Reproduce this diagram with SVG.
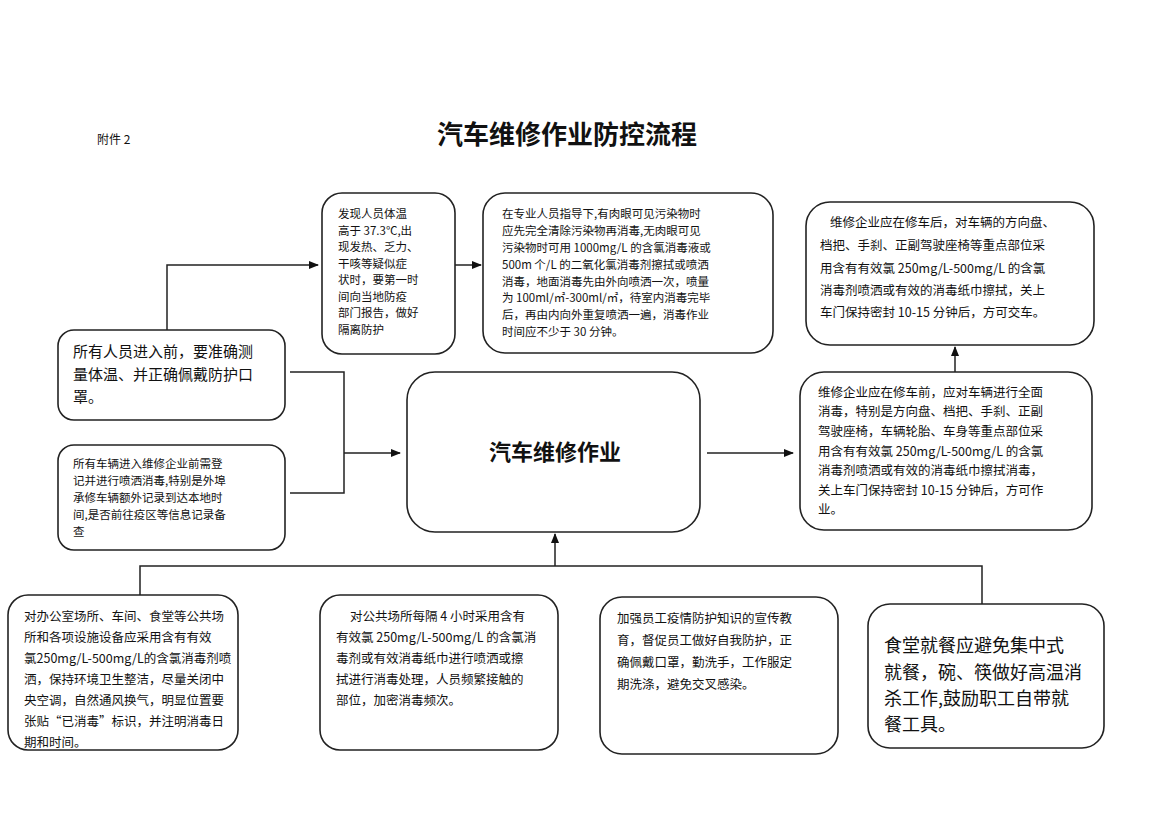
<svg xmlns="http://www.w3.org/2000/svg" width="1169" height="827" viewBox="0 0 1169 827">
<style>
text{font-family:"Noto Sans CJK SC","Liberation Sans",sans-serif;fill:#111}
.b{fill:#fff;stroke:#222;stroke-width:1.6}
.s{font-size:12.5px}
.t{font-size:11.5px}
.c{fill:none;stroke:#222;stroke-width:1.5}
</style>
<defs><marker id="a" markerWidth="10" markerHeight="8" refX="9" refY="4" orient="auto" markerUnits="userSpaceOnUse"><path d="M0,0L10,4L0,8z" fill="#111"/></marker></defs>
<rect width="1169" height="827" fill="#fff"/>
<text x="97" y="144" font-size="12" font-family="Liberation Serif,serif">附件 2</text>
<text x="567" y="144" font-size="26" font-weight="bold" text-anchor="middle">汽车维修作业防控流程</text>
<g id="connectors">
<path class="c" d="M167,330V265H318" marker-end="url(#a)"/>
<path class="c" d="M455,265H481" marker-end="url(#a)"/>
<path class="c" d="M290,372H344V493H290M344,453H400" marker-end="url(#a)"/>
<path class="c" d="M707,453H793" marker-end="url(#a)"/>
<path class="c" d="M955,372V347" marker-end="url(#a)"/>
<path class="c" d="M140,595V566H982V604M555,566V534" marker-end="url(#a)"/>
</g>
<g id="nA"><rect class="b" x="58" y="330" width="227" height="90" rx="16"/>
<text font-size="15"><tspan x="73" y="357">所有人员进入前，要准确测</tspan><tspan x="73" y="380">量体温、并正确佩戴防护口</tspan><tspan x="73" y="402">罩。</tspan></text></g>
<g id="nB"><rect class="b" x="58" y="445" width="227" height="105" rx="16"/>
<text class="t"><tspan x="73" y="468">所有车辆进入维修企业前需登</tspan><tspan x="73" y="485">记并进行喷洒消毒,特别是外埠</tspan><tspan x="73" y="502">承修车辆额外记录到达本地时</tspan><tspan x="73" y="519">间,是否前往疫区等信息记录备</tspan><tspan x="73" y="536">查</tspan></text></g>
<g id="nC"><rect class="b" x="322" y="193" width="133" height="161" rx="20"/>
<text class="t"><tspan x="338" y="218">发现人员体温</tspan><tspan x="338" y="235">高于 37.3℃,出</tspan><tspan x="338" y="251">现发热、乏力、</tspan><tspan x="338" y="268">干咳等疑似症</tspan><tspan x="338" y="284">状时，要第一时</tspan><tspan x="338" y="301">间向当地防疫</tspan><tspan x="338" y="317">部门报告，做好</tspan><tspan x="338" y="334">隔离防护</tspan></text></g>
<g id="nD"><rect class="b" x="483" y="193" width="290" height="160" rx="22"/>
<text class="t"><tspan x="502" y="218">在专业人员指导下,有肉眼可见污染物时</tspan><tspan x="502" y="235">应先完全清除污染物再消毒,无肉眼可见</tspan><tspan x="502" y="252">污染物时可用 1000mg/L 的含氯消毒液或</tspan><tspan x="502" y="269">500m 个/L 的二氧化氯消毒剂擦拭或喷洒</tspan><tspan x="502" y="286">消毒，地面消毒先由外向喷洒一次，喷量</tspan><tspan x="502" y="302">为 100ml/㎡-300ml/㎡，待室内消毒完毕</tspan><tspan x="502" y="319">后，再由内向外重复喷洒一遍，消毒作业</tspan><tspan x="502" y="336">时间应不少于 30 分钟。</tspan></text></g>
<g id="nE"><rect class="b" x="806" y="202" width="288" height="143" rx="24"/>
<text class="s"><tspan x="830" y="227">维修企业应在修车后，对车辆的方向盘、</tspan><tspan x="820" y="250">档把、手刹、正副驾驶座椅等重点部位采</tspan><tspan x="820" y="273">用含有有效氯 250mg/L-500mg/L 的含氯</tspan><tspan x="820" y="295">消毒剂喷洒或有效的消毒纸巾擦拭，关上</tspan><tspan x="820" y="317">车门保持密封 10-15 分钟后，方可交车。</tspan></text></g>
<g id="nF"><rect class="b" x="800" y="372" width="292" height="158" rx="24"/>
<text class="s"><tspan x="818" y="397">维修企业应在修车前，应对车辆进行全面</tspan><tspan x="818" y="416">消毒，特别是方向盘、档把、手刹、正副</tspan><tspan x="818" y="436">驾驶座椅，车辆轮胎、车身等重点部位采</tspan><tspan x="818" y="456">用含有有效氯 250mg/L-500mg/L 的含氯</tspan><tspan x="818" y="475">消毒剂喷洒或有效的消毒纸巾擦拭消毒，</tspan><tspan x="818" y="495">关上车门保持密封 10-15 分钟后，方可作</tspan><tspan x="818" y="514">业。</tspan></text></g>
<g id="nCenter"><rect class="b" x="407" y="372" width="293" height="160" rx="28"/>
<text x="555" y="460" font-size="22" font-weight="bold" text-anchor="middle">汽车维修作业</text></g>
<g id="nG"><rect class="b" x="8" y="595" width="230" height="155" rx="20"/>
<text class="s"><tspan x="24" y="621">对办公室场所、车间、食堂等公共场</tspan><tspan x="24" y="642">所和各项设施设备应采用含有有效</tspan><tspan x="24" y="663">氯250mg/L-500mg/L的含氯消毒剂喷</tspan><tspan x="24" y="684">洒，保持环境卫生整洁，尽量关闭中</tspan><tspan x="24" y="705">央空调，自然通风换气，明显位置要</tspan><tspan x="24" y="726">张贴“已消毒”标识，并注明消毒日</tspan><tspan x="24" y="747">期和时间。</tspan></text></g>
<g id="nH"><rect class="b" x="320" y="595" width="238" height="155" rx="20"/>
<text class="s"><tspan x="350" y="621">对公共场所每隔 4 小时采用含有</tspan><tspan x="336" y="642">有效氯 250mg/L-500mg/L 的含氯消</tspan><tspan x="336" y="663">毒剂或有效消毒纸巾进行喷洒或擦</tspan><tspan x="336" y="684">拭进行消毒处理，人员频繁接触的</tspan><tspan x="336" y="705">部位，加密消毒频次。</tspan></text></g>
<g id="nI"><rect class="b" x="600" y="597" width="238" height="157" rx="22"/>
<text class="s"><tspan x="617" y="623">加强员工疫情防护知识的宣传教</tspan><tspan x="617" y="645">育，督促员工做好自我防护，正</tspan><tspan x="617" y="667">确佩戴口罩，勤洗手，工作服定</tspan><tspan x="617" y="689">期洗涤，避免交叉感染。</tspan></text></g>
<g id="nJ"><rect class="b" x="868" y="604" width="236" height="144" rx="22"/>
<text font-size="18"><tspan x="884" y="652">食堂就餐应避免集中式</tspan><tspan x="884" y="679">就餐，碗、筷做好高温消</tspan><tspan x="884" y="705">杀工作,鼓励职工自带就</tspan><tspan x="884" y="731">餐工具。</tspan></text></g>
</svg>
